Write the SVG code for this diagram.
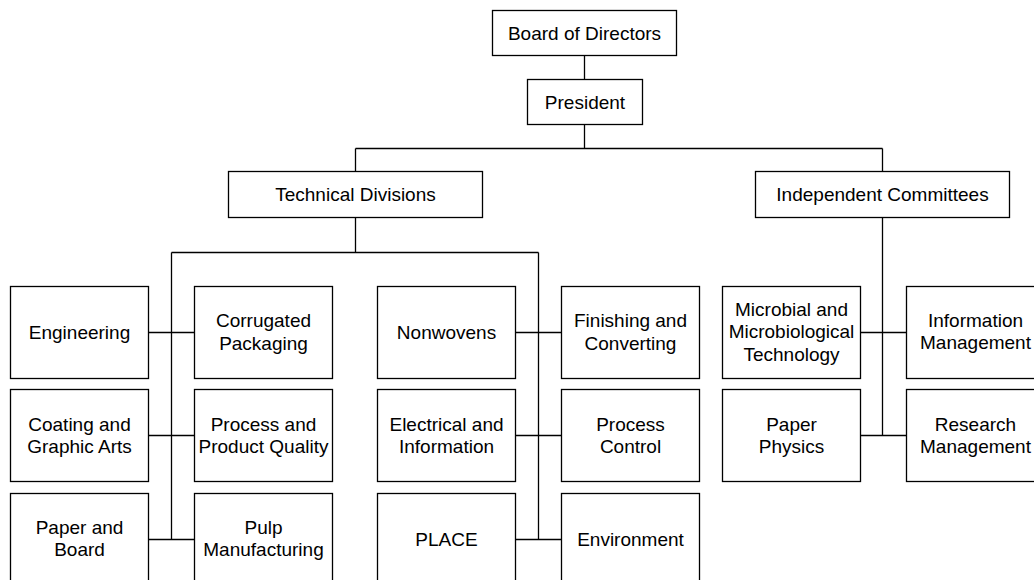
<svg xmlns="http://www.w3.org/2000/svg" width="1034" height="580" viewBox="0 0 1034 580">
<style>
.box{fill:#fff;stroke:#000;stroke-width:1.3}
.ln{fill:none;stroke:#000;stroke-width:1.3}
text{font-family:"Liberation Sans",Arial,sans-serif;font-size:19px;fill:#000;text-anchor:middle}
</style>
<rect width="1034" height="580" fill="#fff"/>
<g id="connectors">
<path class="ln" d="M584.5 55.5V79.5M584.5 124.5V148.5M355.5 148.5H882.5M355.5 148.5V171.5M882.5 148.5V171.5"/>
<path class="ln" d="M355.5 217.5V252.5M171.5 252.5H538.5M171.5 252.5V539.5M538.5 252.5V539.5M882.5 217.5V435.5"/>
<path class="ln" d="M148.5 332.5H194.5M148.5 435.5H194.5M148.5 539.5H194.5M515.5 332.5H561.5M515.5 435.5H561.5M515.5 539.5H561.5M860.5 332.5H906.5M860.5 435.5H906.5"/>
</g>
<g id="board"><rect class="box" x="492.5" y="10.5" width="184" height="45"/><text x="584.5" y="39.5">Board of Directors</text></g>
<g id="president"><rect class="box" x="527.5" y="79.5" width="115" height="45"/><text x="585" y="108.5">President</text></g>
<g id="technical"><rect class="box" x="228.5" y="171.5" width="254" height="46"/><text x="355.5" y="201">Technical Divisions</text></g>
<g id="independent"><rect class="box" x="755.5" y="171.5" width="254" height="46"/><text x="882.5" y="201">Independent Committees</text></g>

<g id="engineering"><rect class="box" x="10.5" y="286.5" width="138" height="92"/><text x="79.5" y="339.3">Engineering</text></g>
<g id="corrugated"><rect class="box" x="194.5" y="286.5" width="138" height="92"/><text x="263.5" y="327">Corrugated</text><text x="263.5" y="349.7">Packaging</text></g>
<g id="nonwovens"><rect class="box" x="377.5" y="286.5" width="138" height="92"/><text x="446.5" y="339.3">Nonwovens</text></g>
<g id="finishing"><rect class="box" x="561.5" y="286.5" width="138" height="92"/><text x="630.5" y="327">Finishing and</text><text x="630.5" y="349.7">Converting</text></g>
<g id="microbial"><rect class="box" x="722.5" y="286.5" width="138" height="92"/><text x="791.5" y="315.6">Microbial and</text><text x="791.5" y="338.3">Microbiological</text><text x="791.5" y="361">Technology</text></g>
<g id="infomgmt"><rect class="box" x="906.5" y="286.5" width="138" height="92"/><text x="975.5" y="326.5">Information</text><text x="975.5" y="349.2">Management</text></g>

<g id="coating"><rect class="box" x="10.5" y="389.5" width="138" height="92"/><text x="79.5" y="430.5">Coating and</text><text x="79.5" y="453.2">Graphic Arts</text></g>
<g id="processquality"><rect class="box" x="194.5" y="389.5" width="138" height="92"/><text x="263.5" y="430.5">Process and</text><text x="263.5" y="453.2">Product Quality</text></g>
<g id="electrical"><rect class="box" x="377.5" y="389.5" width="138" height="92"/><text x="446.5" y="430.5">Electrical and</text><text x="446.5" y="453.2">Information</text></g>
<g id="processcontrol"><rect class="box" x="561.5" y="389.5" width="138" height="92"/><text x="630.5" y="430.5">Process</text><text x="630.5" y="453.2">Control</text></g>
<g id="paperphysics"><rect class="box" x="722.5" y="389.5" width="138" height="92"/><text x="791.5" y="430.5">Paper</text><text x="791.5" y="453.2">Physics</text></g>
<g id="research"><rect class="box" x="906.5" y="389.5" width="138" height="92"/><text x="975.5" y="430.5">Research</text><text x="975.5" y="453.2">Management</text></g>

<g id="paperboard"><rect class="box" x="10.5" y="493.5" width="138" height="92"/><text x="79.5" y="533.5">Paper and</text><text x="79.5" y="556.2">Board</text></g>
<g id="pulp"><rect class="box" x="194.5" y="493.5" width="138" height="92"/><text x="263.5" y="533.5">Pulp</text><text x="263.5" y="556.2">Manufacturing</text></g>
<g id="place"><rect class="box" x="377.5" y="493.5" width="138" height="92"/><text x="446.5" y="546.3">PLACE</text></g>
<g id="environment"><rect class="box" x="561.5" y="493.5" width="138" height="92"/><text x="630.5" y="546.3">Environment</text></g>
</svg>
